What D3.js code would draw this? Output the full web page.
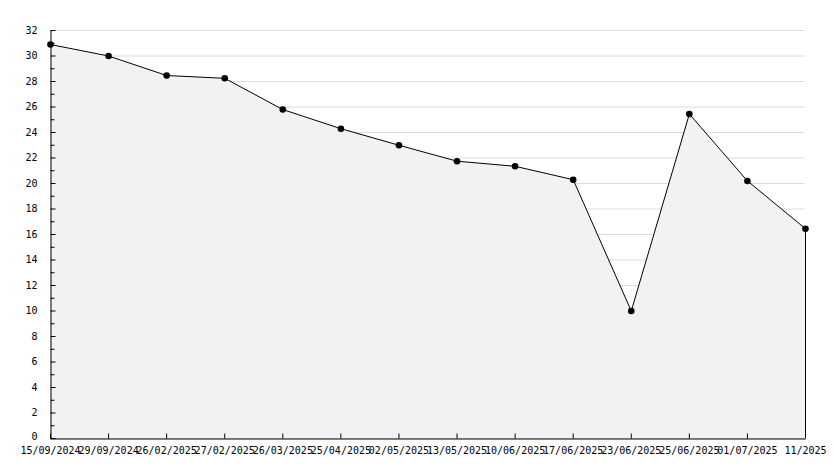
<!DOCTYPE html>
<html>
<head>
<meta charset="utf-8">
<script src="https://cdn.jsdelivr.net/npm/d3@7"></script>
<style>
  body { margin: 0; background: #fff; }
  svg text { font-family: "DejaVu Sans Mono", monospace; font-size: 10px; fill: #000; }
</style>
</head>
<body>
<div id="chart"></div>
<script>
const dates = ['15/09/2024', '29/09/2024', '26/02/2025', '27/02/2025', '26/03/2025', '25/04/2025',
  '02/05/2025', '13/05/2025', '10/06/2025', '17/06/2025', '23/06/2025', '25/06/2025', '01/07/2025', '11/2025'];
const values = [30.9, 30.0, 28.47, 28.25, 25.8, 24.3, 23.0, 21.75, 21.35, 20.3, 10.0, 25.45, 20.2, 16.45];
const yTicks = d3.range(0, 33, 2);
const yMinorTicks = d3.range(1, 32, 2);

const width = 834;
const height = 468;
const margin = { top: 30, left: 50, right: 29, bottom: 30 };

const svg = d3.select('#chart').append('svg')
    .attr('width', width)
    .attr('height', height);

const x = d3.scalePoint(dates, [margin.left, width - margin.right]);
const y = d3.scaleLinear([0, 32], [height - margin.bottom, margin.top]);

// Grid
svg.append('g')
  .selectAll('line')
  .data(yTicks)
  .join('line')
    .attr('x1', margin.left)
    .attr('x2', width - margin.right)
    .attr('y1', d => y(d) + 0.5)
    .attr('y2', d => y(d) + 0.5)
    .attr('stroke', '#dcdcdc');

// Area
const area = d3.area()
    .x((d, i) => x(dates[i]) + 0.5)
    .y0(y(0))
    .y1(d => y(d) + 0.5);

svg.append('path')
    .datum(values)
    .attr('d', area)
    .attr('fill', '#f2f2f2');

// Line
const line = d3.line()
    .x((d, i) => x(dates[i]) + 0.5)
    .y(d => y(d) + 0.5);

svg.append('path')
    .datum(values)
    .attr('d', line)
    .attr('fill', 'none')
    .attr('stroke', '#000')
    .attr('stroke-width', 1);

// Right edge of the area
const last = values.length - 1;
svg.append('line')
    .attr('x1', x(dates[last]) + 0.5)
    .attr('x2', x(dates[last]) + 0.5)
    .attr('y1', y(values[last]))
    .attr('y2', y(0))
    .attr('stroke', '#000');

// Markers
svg.append('g')
  .selectAll('circle')
  .data(values)
  .join('circle')
    .attr('cx', (d, i) => x(dates[i]) + 0.5)
    .attr('cy', d => y(d) + 0.5)
    .attr('r', 3.3)
    .attr('fill', '#000');

// Y axis
const yAxis = d3.axisLeft(y)
    .tickValues(yTicks)
    .tickSizeInner(-5)
    .tickSizeOuter(0)
    .tickPadding(13);

const gy = svg.append('g')
    .attr('transform', `translate(${margin.left + 0.5}, 0)`)
    .call(yAxis);
gy.select('.domain').attr('stroke', '#000');

gy.append('g')
  .selectAll('line')
  .data(yMinorTicks)
  .join('line')
    .attr('x1', 0)
    .attr('x2', 4)
    .attr('y1', d => y(d) + 0.5)
    .attr('y2', d => y(d) + 0.5)
    .attr('stroke', '#000');

gy.selectAll('.tick text').style('font-family', '"DejaVu Sans Mono", monospace').style('font-size', '10px');
gy.selectAll('.tick').filter(d => d === 0).select('text').attr('dy', '0.1em');

// X axis
const xAxis = d3.axisBottom(x)
    .tickSizeInner(-5)
    .tickSizeOuter(0)
    .tickPadding(8);

const gx = svg.append('g')
    .attr('transform', `translate(0, ${height - margin.bottom + 0.5})`)
    .call(xAxis);
gx.select('.domain').attr('stroke', '#000');
gx.selectAll('.tick text').style('font-family', '"DejaVu Sans Mono", monospace').style('font-size', '10px');
</script>
</body>
</html>
